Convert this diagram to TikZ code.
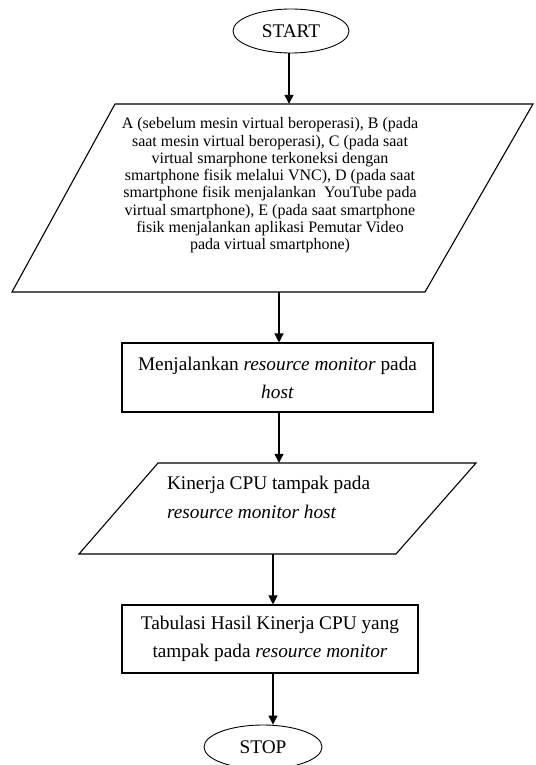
\documentclass[tikz,border=0pt]{standalone}
\usepackage{fontspec}
\setmainfont{Liberation Serif}
\usetikzlibrary{shapes.geometric,arrows.meta}
\begin{document}
\begin{tikzpicture}[x=1pt,y=-1pt,
  arr/.style={line width=1.2pt,-{Triangle[length=9pt,width=9pt]}},
  term/.style={draw,ellipse,line width=0.9pt,inner sep=0pt,font=\fontsize{19.3}{23}\selectfont},
  procbox/.style={draw,rectangle,line width=1.1pt,inner sep=0pt,align=center,font=\fontsize{19.3}{28}\selectfont},
  iobox/.style={inner sep=0pt,draw=none},
  ioshape/.style={draw,line width=1.1pt,line join=miter}
]
\useasboundingbox (0,0) rectangle (535,765);

% START
\node[term,minimum width=116pt,minimum height=44pt] (start) at (291,31) {START};

% input parallelogram 1
\draw[ioshape] (115,104) -- (533,104) -- (425,292) -- (12,292) -- cycle;
\node[iobox] (p1) at (270,198)
 {\parbox[c][188pt][c]{340pt}{\centering\fontsize{16}{17.3}\selectfont
 A (sebelum mesin virtual beroperasi), B (pada\\
 saat mesin virtual beroperasi), C (pada saat\\
 virtual smarphone terkoneksi dengan\\
 smartphone fisik melalui VNC), D (pada saat\\
 smartphone fisik menjalankan\ \ YouTube pada\\
 virtual smartphone), E (pada saat smartphone\\
 fisik menjalankan aplikasi Pemutar Video\\
 pada virtual smartphone)\par\vspace{25pt}}};

% process box 1
\node[procbox,minimum width=311pt,minimum height=69pt] (b2) at (277.5,377.5)
 {Menjalankan \textit{resource monitor} pada\\ \textit{host}};

% input parallelogram 2
\draw[ioshape] (158,463) -- (476,463) -- (396,554) -- (79,554) -- cycle;
\node[iobox] (p2) at (277,508.5)
 {\parbox[c][91pt][c]{220pt}{\raggedright\fontsize{19.3}{29}\selectfont
 Kinerja CPU tampak pada\\
 \textit{resource monitor host}\par\vspace{22pt}}};

% process box 2
\node[procbox,minimum width=296pt,minimum height=68pt] (b3) at (270,639)
 {Tabulasi Hasil Kinerja CPU yang\\ tampak pada \textit{resource monitor}};

% STOP
\node[term,minimum width=118pt,minimum height=44pt] (stop) at (263,747) {STOP};

% connectors
\draw[arr] ([xshift=-2pt]start.south) -- ([xshift=-2pt]start.south |- p1.north);
\draw[arr] ([xshift=1.5pt]b2.north |- p1.south) -- ([xshift=1.5pt]b2.north);
\draw[arr] ([xshift=1.5pt]b2.south) -- ([xshift=1.5pt]b2.south |- p2.north);
\draw[arr] ([xshift=3pt]b3.north |- p2.south) -- ([xshift=3pt]b3.north);
\draw[arr] ([xshift=3pt]b3.south) -- ([xshift=3pt]b3.south |- stop.north);
\end{tikzpicture}
\end{document}
